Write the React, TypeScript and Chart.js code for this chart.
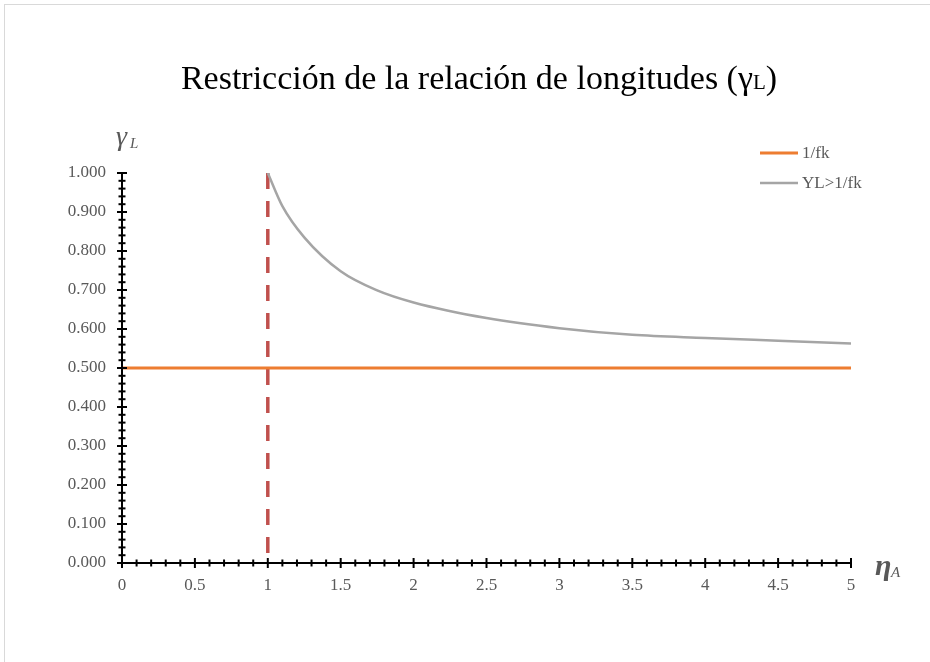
import React, { useEffect, useRef } from "react";
import { Chart, registerables } from "chart.js";

Chart.register(...registerables);

const titleMain = "Restricción de la relación de longitudes (γ";
const titleSub = "L";
const titleEnd = ")";
const seriesLabels = ["1/fk", "YL>1/fk"];
const limitX = [0, 5];
const limitY = [0.5, 0.5];
const curveX = [1, 1.1, 1.25, 1.5, 1.75, 2, 2.5, 3, 3.5, 4, 4.5, 5];
const curveY = [1.0, 0.915, 0.835, 0.748, 0.699, 0.668, 0.628, 0.602, 0.585, 0.577, 0.570, 0.563];
const markerX = [1, 1];
const markerY = [1, 0];

const FONT = "'Liberation Serif', 'Times New Roman', serif";
const GRAY_TEXT = "#595959";

const decorPlugin = {
  id: "decor",
  beforeDraw(chart: any) {
    const ctx = chart.ctx;
    ctx.save();
    ctx.fillStyle = "#ffffff";
    ctx.fillRect(0, 0, chart.width, chart.height);
    ctx.strokeStyle = "#D9D9D9";
    ctx.lineWidth = 1;
    ctx.strokeRect(4.5, 4.5, chart.width + 20, chart.height + 20);
    ctx.restore();
  },
  afterDraw(chart: any) {
    const ctx = chart.ctx;
    const xs = chart.scales.x;
    const ys = chart.scales.y;
    ctx.save();
    // axes
    ctx.strokeStyle = "#000000";
    ctx.lineWidth = 2;
    const x0 = xs.getPixelForValue(0);
    const y0 = ys.getPixelForValue(0);
    ctx.beginPath();
    ctx.moveTo(x0, ys.getPixelForValue(1));
    ctx.lineTo(x0, y0);
    ctx.lineTo(xs.getPixelForValue(5), y0);
    ctx.stroke();
    for (let i = 0; i <= 50; i++) {
      const v = i * 0.02;
      const p = ys.getPixelForValue(v);
      const major = i % 5 === 0;
      const h = major ? 5 : 3.5;
      ctx.beginPath();
      ctx.moveTo(x0 - h, p);
      ctx.lineTo(x0 + h, p);
      ctx.stroke();
    }
    for (let i = 0; i <= 50; i++) {
      const v = i * 0.1;
      const p = xs.getPixelForValue(v);
      const major = i % 5 === 0;
      const h = major ? 5 : 3.5;
      ctx.beginPath();
      ctx.moveTo(p, y0 - h);
      ctx.lineTo(p, y0 + h);
      ctx.stroke();
    }
    // title
    ctx.fillStyle = "#000000";
    ctx.textBaseline = "alphabetic";
    ctx.textAlign = "left";
    ctx.font = `34px ${FONT}`;
    const w1 = ctx.measureText(titleMain).width;
    ctx.font = `21px ${FONT}`;
    const w2 = ctx.measureText(titleSub).width;
    ctx.font = `34px ${FONT}`;
    const w3 = ctx.measureText(titleEnd).width;
    const total = w1 + w2 + w3;
    let tx = 479 - total / 2;
    const ty = 89;
    ctx.fillText(titleMain, tx, ty);
    tx += w1;
    ctx.font = `21px ${FONT}`;
    ctx.fillText(titleSub, tx, ty);
    tx += w2;
    ctx.font = `34px ${FONT}`;
    ctx.fillText(titleEnd, tx, ty);
    // axis titles
    ctx.fillStyle = GRAY_TEXT;
    ctx.font = `italic 28px ${FONT}`;
    ctx.fillText("γ", 116, 145);
    ctx.font = `italic 15px ${FONT}`;
    ctx.fillText("L", 130, 148);
    ctx.font = `italic bold 30px ${FONT}`;
    ctx.fillText("η", 875, 575);
    ctx.font = `italic 15px ${FONT}`;
    ctx.fillText("A", 891, 577);
    // legend
    const items = [chart.data.datasets[0], chart.data.datasets[1]];
    items.forEach((ds: any, i: number) => {
      const ly = 153 + i * 30;
      ctx.strokeStyle = ds.borderColor;
      ctx.lineWidth = ds.borderWidth;
      ctx.beginPath();
      ctx.moveTo(760, ly);
      ctx.lineTo(798, ly);
      ctx.stroke();
      ctx.fillStyle = GRAY_TEXT;
      ctx.font = `17px ${FONT}`;
      ctx.textBaseline = "middle";
      ctx.fillText(ds.label, 802, ly + 1);
    });
    ctx.restore();
  },
};

export default function App() {
  const ref = useRef<HTMLCanvasElement>(null);
  useEffect(() => {
    document.body.style.margin = "0";
    const canvas = ref.current;
    if (!canvas) return;
    const chart = new Chart(canvas, {
      type: "line",
      data: {
        datasets: [
          {
            label: seriesLabels[0],
            data: limitX.map((x, i) => ({ x, y: limitY[i] })),
            borderColor: "#ED7D31",
            borderWidth: 3,
            pointRadius: 0,
          },
          {
            label: seriesLabels[1],
            data: curveX.map((x, i) => ({ x, y: curveY[i] })),
            borderColor: "#A5A5A5",
            borderWidth: 2.5,
            pointRadius: 0,
            cubicInterpolationMode: "monotone",
          },
          {
            label: "marker",
            data: markerX.map((x, i) => ({ x, y: markerY[i] })),
            borderColor: "#C0504D",
            borderWidth: 3.5,
            borderDash: [16, 12],
            pointRadius: 0,
          },
        ],
      },
      options: {
        responsive: false,
        animation: false,
        layout: { padding: { top: 173, right: 79, left: 0, bottom: 0 } },
        plugins: {
          legend: { display: false },
          title: { display: false },
          tooltip: { enabled: false },
        },
        scales: {
          x: {
            type: "linear",
            min: 0,
            max: 5,
            grid: { display: false, drawTicks: false },
            border: { display: false },
            ticks: {
              stepSize: 0.5,
              color: GRAY_TEXT,
              font: { family: FONT, size: 17 },
              padding: 12,
              maxRotation: 0,
              callback: (v: any) => String(Number(v)),
            },
            afterFit: (s: any) => {
              s.height = 99;
            },
          },
          y: {
            type: "linear",
            min: 0,
            max: 1,
            grid: { display: false, drawTicks: false },
            border: { display: false },
            ticks: {
              stepSize: 0.1,
              color: GRAY_TEXT,
              font: { family: FONT, size: 17 },
              padding: 16,
              callback: (v: any) => Number(v).toFixed(3),
            },
            afterFit: (s: any) => {
              s.width = 122;
            },
          },
        },
      },
      plugins: [decorPlugin],
    } as any);
    return () => chart.destroy();
  }, []);
  return <canvas ref={ref} width={930} height={662} style={{ display: "block" }} />;
}
